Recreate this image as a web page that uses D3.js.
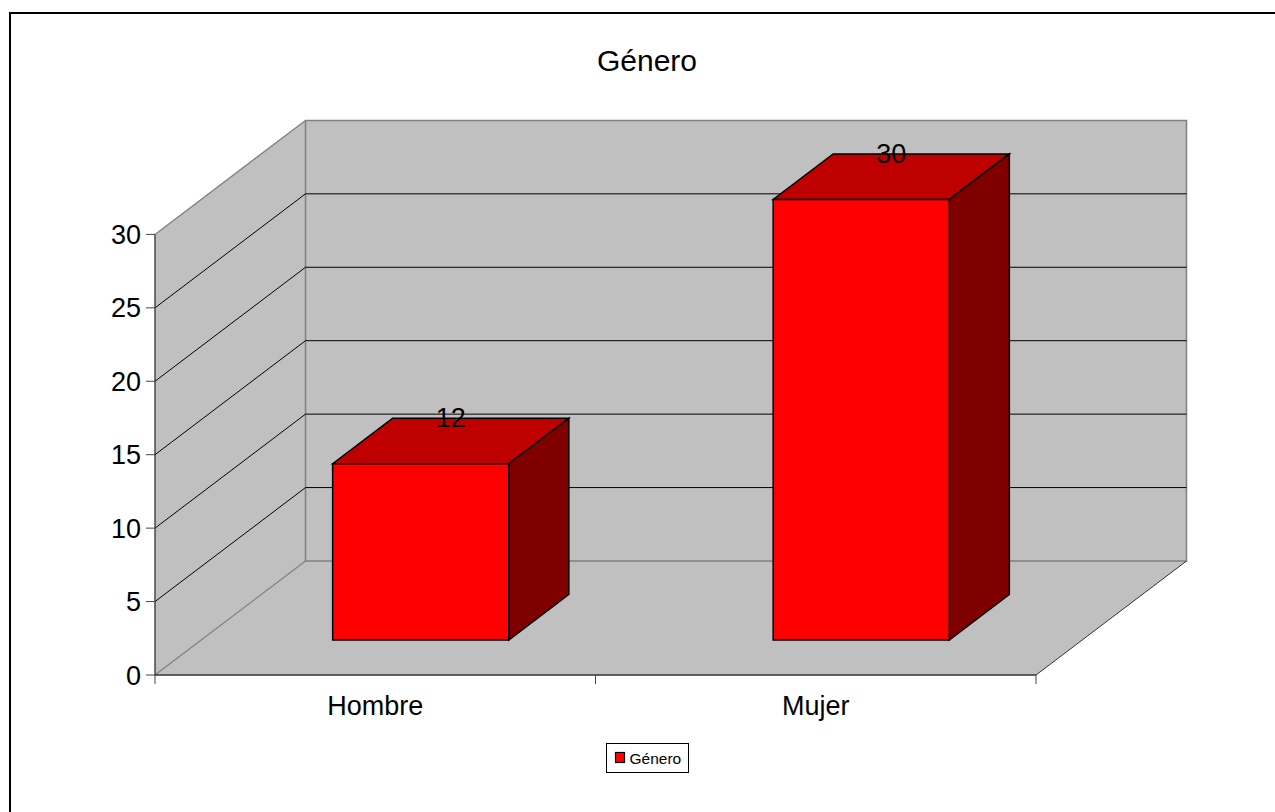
<!DOCTYPE html>
<html><head><meta charset="utf-8">
<script src="https://cdn.jsdelivr.net/npm/d3@7"></script>
<style>html,body{margin:0;padding:0;background:#fff}svg{display:block}text{font-family:"Liberation Sans",Arial,sans-serif;fill:#000}</style>
</head><body><svg id="c" width="1275" height="812"></svg>
<script>
const chartTitle = "Género";
const seriesName = "Género";
const categories = ["Hombre", "Mujer"];
const seriesValues = [12, 30];
const yTicks = [0, 5, 10, 15, 20, 25, 30];

const svg = d3.select("#c");
const x = d3.scaleBand().domain(categories).range([155, 1036]).paddingInner(0.6).paddingOuter(0.3);
const xEdges = d3.scaleLinear().domain([0, categories.length]).range([155, 1036]);
const y = d3.scaleLinear().domain([0, 30]).range([675, 234.4]);
const backDx = 150.5, backDy = -114;   // wall depth
const barDx = 60, barDy = -45.5;       // bar depth
const frontDx = 45.5, frontDy = -35;   // bar offset from the front edge of the floor
const line = d3.line();
const GREY = "#808080", WALL = "#c0c0c0";

// page frame: top and left edges inside the picture
svg.append("path").attr("fill", "none").attr("stroke", "#000").attr("stroke-width", 2)
  .attr("d", line([[10, 900], [10, 13], [1400, 13]]));

const x0 = x.range()[0], x1 = x.range()[1], yB = y(0), yT = y(30);
const poly = (pts, fill, stroke, sw) => svg.append("path").attr("d", line(pts) + "Z")
  .attr("fill", fill).attr("stroke", stroke).attr("stroke-width", sw).attr("stroke-linejoin", "miter");

// floor, side wall, back wall
poly([[x0, yB], [x1, yB], [x1 + backDx, yB + backDy], [x0 + backDx, yB + backDy]], WALL, "none", 0);
poly([[x0, yB], [x0 + backDx, yB + backDy], [x0 + backDx, yT + backDy], [x0, yT]], WALL, "none", 0);
poly([[x0 + backDx, yB + backDy], [x1 + backDx, yB + backDy], [x1 + backDx, yT + backDy], [x0 + backDx, yT + backDy]], WALL, GREY, 1.5);

// gridlines
yTicks.slice(1, -1).forEach(t => {
  svg.append("path").attr("fill", "none").attr("stroke", "#000").attr("stroke-width", 1)
    .attr("d", line([[x0, y(t)], [x0 + backDx, y(t) + backDy], [x1 + backDx, y(t) + backDy]]));
});
// wall edges
svg.append("path").attr("fill", "none").attr("stroke", GREY).attr("stroke-width", 1.3)
  .attr("d", line([[x0, yT], [x0 + backDx, yT + backDy]]));
svg.append("path").attr("fill", "none").attr("stroke", GREY).attr("stroke-width", 1.3)
  .attr("d", line([[x0, yB], [x0 + backDx, yB + backDy]]));
svg.append("path").attr("fill", "none").attr("stroke", "#333").attr("stroke-width", 1)
  .attr("d", line([[x1, yB], [x1 + backDx, yB + backDy]]));

// axes
svg.append("path").attr("fill", "none").attr("stroke", "#333").attr("stroke-width", 1.3)
  .attr("d", line([[x0, yT], [x0, yB], [x1, yB]]));
yTicks.forEach(t => {
  svg.append("line").attr("x1", x0 - 9).attr("x2", x0).attr("y1", y(t)).attr("y2", y(t))
    .attr("stroke", "#444").attr("stroke-width", 1);
  svg.append("text").attr("x", x0 - 14).attr("y", y(t) + 9.5).attr("text-anchor", "end")
    .attr("font-size", 27).text(t);
});
d3.range(categories.length + 1).forEach(i => {
  svg.append("line").attr("x1", xEdges(i)).attr("x2", xEdges(i)).attr("y1", yB).attr("y2", yB + 9)
    .attr("stroke", "#444").attr("stroke-width", 1);
});
categories.forEach((c, i) => {
  svg.append("text").attr("x", x(c) + x.bandwidth() / 2).attr("y", 715).attr("text-anchor", "middle")
    .attr("font-size", 27).text(c);
});

// bars
const baseY = yB + frontDy;
categories.forEach((c, i) => {
  const l = x(c) + frontDx, r = l + x.bandwidth();
  const h = yB - y(seriesValues[i]), t = baseY - h;
  poly([[l, t], [r, t], [r + barDx, t + barDy], [l + barDx, t + barDy]], "#bf0000", "#000", 1.5);
  poly([[r, t], [r + barDx, t + barDy], [r + barDx, baseY + barDy], [r, baseY]], "#800000", "#000", 1.5);
  poly([[l, t], [r, t], [r, baseY], [l, baseY]], "#ff0000", "#000", 1.5);
  svg.append("text").attr("x", (l + r) / 2 + 30).attr("y", t - 36.5).attr("text-anchor", "middle")
    .attr("font-size", 27).text(seriesValues[i]);
});

// title
svg.append("text").attr("x", 647).attr("y", 71).attr("text-anchor", "middle").attr("font-size", 30).text(chartTitle);

// legend
svg.append("rect").attr("x", 606.5).attr("y", 743.5).attr("width", 82).attr("height", 29)
  .attr("fill", "#fff").attr("stroke", "#000").attr("stroke-width", 1);
svg.append("rect").attr("x", 615.5).attr("y", 752.5).attr("width", 9).attr("height", 10)
  .attr("fill", "#ff0000").attr("stroke", "#000").attr("stroke-width", 1.2);
svg.append("text").attr("x", 629.5).attr("y", 763.5).attr("font-size", 15.5).text(seriesName);
</script></body></html>
